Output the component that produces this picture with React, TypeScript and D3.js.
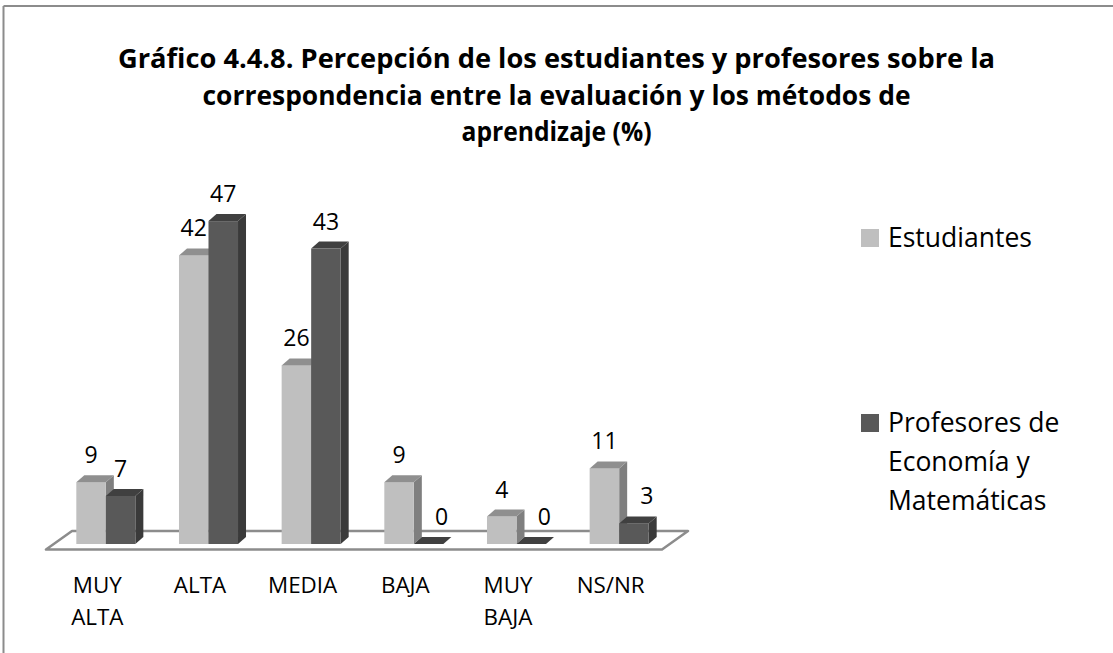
import React from 'react';
import * as d3 from 'd3';

// category tick labels (wrapped on spaces)
const categories = ['MUY ALTA', 'ALTA', 'MEDIA', 'BAJA', 'MUY BAJA', 'NS/NR'];
const seriesNames = ['Estudiantes', 'Profesores de Economía y Matemáticas'];
const estudiantes = [9, 42, 26, 9, 4, 11];
const profesores = [7, 47, 43, 0, 0, 3];

const titleLines = [
  'Gráfico 4.4.8. Percepción de los estudiantes y profesores sobre la',
  'correspondencia entre la evaluación y los métodos de',
  'aprendizaje (%)',
];
const legendLines = [['Estudiantes'], ['Profesores de', 'Economía y', 'Matemáticas']];

const W = 1113;
const H = 653;
const FONT = '"Open Sans", Calibri, sans-serif';

const palette = [
  { front: '#bfbfbf', top: '#8f8f8f', side: '#7f7f7f' },
  { front: '#595959', top: '#404040', side: '#3a3a3a' },
];

export default function App() {
  const baseY = 544;
  const floor = { x0: 46, x1: 662, y: 549.5, dx: 26, dy: -18.5 };
  const depth = { dx: 8, dy: -7 };

  const x = d3.scaleBand<string>().domain(categories).range([54.5, 670.5]);
  const xLabel = d3.scaleBand<string>().domain(categories).range([floor.x0, floor.x1]);
  const y = d3.scaleLinear().domain([0, 50]).range([baseY, 200.5]);

  const groupW = x.bandwidth() * 0.575;
  const barW = groupW / 2;
  const series = [estudiantes, profesores];
  const titleWidths = [877, 708, 190];

  const floorPath = d3.line()([
    [floor.x0, floor.y],
    [floor.x1, floor.y],
    [floor.x1 + floor.dx, floor.y + floor.dy],
    [floor.x0 + floor.dx, floor.y + floor.dy],
  ]) + 'Z';

  return (
    <svg width={W} height={H} style={{ position: 'absolute', left: 0, top: 0, background: '#fff' }} fontFamily={FONT}>
      <rect width={W} height={H} fill="#fff" />
      {/* chart area border (only top and left visible) */}
      <line x1={3.5} y1={6} x2={W} y2={6} stroke="#8c8c8c" strokeWidth={2} />
      <line x1={3.5} y1={6} x2={3.5} y2={H} stroke="#8c8c8c" strokeWidth={2} />

      {titleLines.map((t, i) => (
        <text
          key={i}
          x={556.5}
          y={68 + i * 36.5}
          textAnchor="middle"
          fontWeight="bold"
          fontSize={26.5}
          textLength={titleWidths[i]}
          lengthAdjust="spacingAndGlyphs"
          fill="#000"
        >
          {t}
        </text>
      ))}

      <path d={floorPath} fill="#fff" stroke="#8c8c8c" strokeWidth={2.5} strokeLinejoin="round" />

      {categories.map((c, i) => {
        const gx = x(c)! + (x.bandwidth() - groupW) / 2;
        return (
          <g key={c}>
            {series.map((vals, s) => {
              const v = vals[i];
              const bx = gx + s * barW;
              const yt = y(v);
              const col = palette[s];
              const top = d3.line()([
                [bx, yt],
                [bx + depth.dx, yt + depth.dy],
                [bx + barW + depth.dx, yt + depth.dy],
                [bx + barW, yt],
              ]) + 'Z';
              const side = d3.line()([
                [bx + barW, yt],
                [bx + barW + depth.dx, yt + depth.dy],
                [bx + barW + depth.dx, baseY + depth.dy],
                [bx + barW, baseY],
              ]) + 'Z';
              return (
                <g key={s}>
                  <path d={side} fill={col.side} />
                  <rect x={bx} y={yt} width={barW} height={baseY - yt} fill={col.front} />
                  <path d={top} fill={col.top} />
                </g>
              );
            })}
          </g>
        );
      })}

      {/* data labels */}
      {categories.map((c, i) => {
        const gx = x(c)! + (x.bandwidth() - groupW) / 2;
        return series.map((vals, s) => {
          const v = vals[i];
          const cx = gx + s * barW + barW / 2 + (s === 1 && v < 5 ? 13 : 0);
          return (
            <text key={c + s} x={cx} y={y(v) + depth.dy - 12} textAnchor="middle" fontSize={23} fill="#000">
              {v}
            </text>
          );
        });
      })}

      {/* category labels */}
      {categories.map((c) => (
        <text key={c} x={xLabel(c)! + xLabel.bandwidth() / 2} y={593} textAnchor="middle" fontSize={22.4} fill="#000">
          {c.split(' ').map((w, k) => (
            <tspan key={k} x={xLabel(c)! + xLabel.bandwidth() / 2} dy={k === 0 ? 0 : 32}>
              {w}
            </tspan>
          ))}
        </text>
      ))}

      {/* legend */}
      {seriesNames.map((n, s) => {
        const ly = [247, 432][s];
        return (
          <g key={n}>
            <rect x={861} y={ly - 18} width={18} height={18} fill={palette[s].front} />
            <text x={888} y={ly} fontSize={26.5} fill="#000">
              {legendLines[s].map((l, k) => (
                <tspan key={k} x={888} dy={k === 0 ? 0 : 39}>
                  {l}
                </tspan>
              ))}
            </text>
          </g>
        );
      })}
    </svg>
  );
}
